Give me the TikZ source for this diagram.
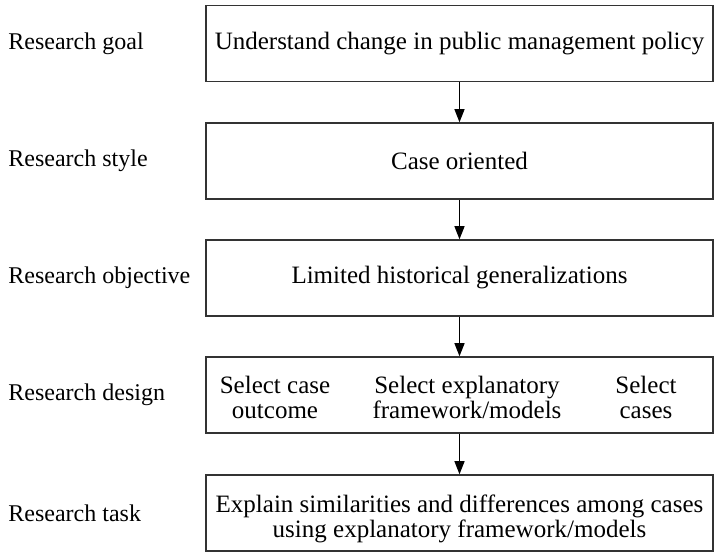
\documentclass[tikz,border=0pt]{standalone}
\usepackage{fontspec}
\setmainfont{Liberation Serif}
\usetikzlibrary{arrows.meta}

\tikzset{
  stage/.style={draw=black!80, line width=0.8pt, minimum width=253.5pt,
                minimum height=38pt, inner sep=0pt, align=center},
  part/.style={align=center, inner sep=0pt},
  flow/.style={-{Triangle[width=5pt,length=6.5pt]}, line width=0.6pt},
  lbl/.style={anchor=west, inner sep=0pt, font=\fontsize{12}{12}\selectfont}
}

\begin{document}
\begin{tikzpicture}[x=0.5pt, y=-0.5pt, font=\fontsize{12.5}{12.5}\selectfont]
  \useasboundingbox (0,0) rectangle (714,553);
  % stages and their names on the left
  \foreach \n/\py/\lab/\txt in {1/43.5/goal/Understand change in public management policy,
                                2/161/style/Case oriented,
                                3/278/objective/Limited historical generalizations,
                                4/395/design/{},
                                5/513/task/{}}
    {\node[stage] (b\n) at (459.5,\py) {\txt};
     \node[lbl] (l\n) at (8,\py) {Research \lab};}
  % the three parts of the design
  \node[part] (d1) at (275,397) {Select case\\outcome};
  \node[part] (d2) at (467,397) {Select explanatory\\framework/models};
  \node[part] (d3) at (646,397) {Select\\cases};
  % the task
  \node[part] (t5) at (459.5,519) {Explain similarities and differences among cases\\using explanatory framework/models};
  \foreach \a/\b in {1/2, 2/3, 3/4, 4/5}
    \draw[flow] (b\a.south) -- (b\b.north);
\end{tikzpicture}
\end{document}
